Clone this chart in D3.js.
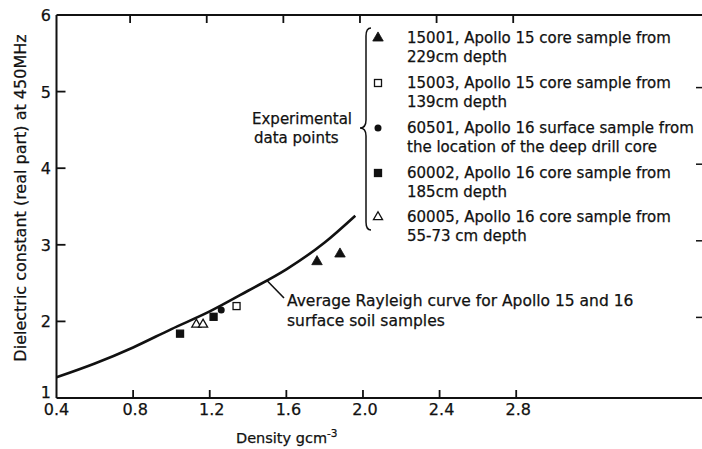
<!DOCTYPE html>
<html>
<head>
<meta charset="utf-8">
<script src="https://cdn.jsdelivr.net/npm/d3@7"></script>
<style>
  body { margin: 0; background: #fff; }
  svg { display: block; }
  text { font-family: "DejaVu Sans", sans-serif; fill: #111; stroke: #111; stroke-width: 0.25px; }
</style>
</head>
<body>
<svg id="chart" width="702" height="449"></svg>
<script>
// Rayleigh curve (density, dielectric constant)
var curveDensity = [0.4, 0.6, 0.8, 1.0, 1.2, 1.4, 1.6, 1.8, 1.96];
var curveEps = [1.27, 1.45, 1.66, 1.90, 2.13, 2.40, 2.68, 3.03, 3.38];

// experimental points, one small array per sample
var s15001 = [[1.76, 2.78], [1.88, 2.88]];
var s15003 = [[1.34, 2.20]];
var s60501 = [[1.26, 2.15]];
var s60002 = [[1.045, 1.84], [1.22, 2.06]];
var s60005 = [[1.13, 1.96], [1.165, 1.96]];

var xTicks = [0.4, 0.8, 1.2, 1.6, 2.0, 2.4, 2.8];
var yTicks = [1, 2, 3, 4, 5, 6];

var legendLines = [
    ["15001, Apollo 15 core sample from", "229cm depth"],
    ["15003, Apollo 15 core sample from", "139cm depth"],
    ["60501, Apollo 16 surface sample from", "the location of the deep drill core"],
    ["60002, Apollo 16 core sample from", "185cm depth"],
    ["60005, Apollo 16 core sample from", "55-73 cm depth"]
];
var legendSymbols = ["triFill", "sqOpen", "circFill", "sqFill", "triOpen"];

var svg = d3.select("svg");

var x = d3.scaleLinear().domain([0.4, 3.77]).range([56.5, 702]);
var y = d3.scaleLinear().domain([1, 6]).range([398, 15]);

var g = svg.append("g");

// frame lines
g.append("line").attr("x1", x(0.4)).attr("x2", 702).attr("y1", y(1)).attr("y2", y(1))
    .attr("stroke", "#111").attr("stroke-width", 2);
g.append("line").attr("x1", x(0.4)).attr("x2", 702).attr("y1", y(6)).attr("y2", y(6))
    .attr("stroke", "#111").attr("stroke-width", 2);
g.append("line").attr("x1", x(0.4)).attr("x2", x(0.4)).attr("y1", y(1)).attr("y2", y(6))
    .attr("stroke", "#111").attr("stroke-width", 2);

// ticks, inward
var inner = xTicks.slice(1);
g.selectAll(".xb").data(inner).enter().append("line")
    .attr("x1", function (d) { return x(d); }).attr("x2", function (d) { return x(d); })
    .attr("y1", y(1)).attr("y2", y(1) - 8)
    .attr("stroke", "#111").attr("stroke-width", 1.8);
g.selectAll(".xt").data(inner).enter().append("line")
    .attr("x1", function (d) { return x(d) - 3; }).attr("x2", function (d) { return x(d) - 3; })
    .attr("y1", y(6)).attr("y2", y(6) + 8)
    .attr("stroke", "#111").attr("stroke-width", 1.8);
g.selectAll(".yl").data(yTicks.slice(1, 5)).enter().append("line")
    .attr("x1", x(0.4)).attr("x2", x(0.4) + 9)
    .attr("y1", function (d) { return y(d); }).attr("y2", function (d) { return y(d); })
    .attr("stroke", "#111").attr("stroke-width", 1.8);
g.selectAll(".yr").data(yTicks.slice(1, 5)).enter().append("line")
    .attr("x1", 696).attr("x2", 702)
    .attr("y1", function (d) { return y(d) - 4; }).attr("y2", function (d) { return y(d) - 4; })
    .attr("stroke", "#111").attr("stroke-width", 1.5);

// tick labels
g.selectAll(".xlab").data(xTicks).enter().append("text")
    .attr("x", function (d) { return x(d) + (d === 0.4 ? 0 : 2); })
    .attr("y", 415)
    .attr("text-anchor", "middle")
    .style("font-size", "16px")
    .text(function (d) { return d.toFixed(1); });
g.selectAll(".ylab").data(yTicks).enter().append("text")
    .attr("x", 51)
    .attr("y", function (d) { return y(d) + (d === 1 ? 0 : 6); })
    .attr("text-anchor", "end")
    .style("font-size", "16px")
    .text(function (d) { return d; });

// axis titles
var xt = g.append("text").attr("x", 236).attr("y", 443).style("font-size", "14.5px");
xt.append("tspan").text("Density  gcm");
xt.append("tspan").attr("dy", -6).style("font-size", "10.5px").text("-3");

g.append("text")
    .attr("transform", "translate(26,198) rotate(-90)")
    .attr("text-anchor", "middle")
    .style("font-size", "16px")
    .text("Dielectric constant (real part) at 450MHz");

// curve
var line = d3.line()
    .x(function (d) { return x(d[0]); })
    .y(function (d) { return y(d[1]); })
    .curve(d3.curveMonotoneX);
g.append("path")
    .datum(d3.zip(curveDensity, curveEps))
    .attr("d", line)
    .attr("fill", "none").attr("stroke", "#111").attr("stroke-width", 2.6);

// symbols
function drawSymbol(sel, kind) {
    if (kind === "triFill" || kind === "triOpen") {
        sel.append("path")
            .attr("d", d3.symbol().type(d3.symbolTriangle).size(kind === "triFill" ? 48 : 36)())
            .attr("fill", kind === "triFill" ? "#111" : "#fff")
            .attr("stroke", "#111").attr("stroke-width", kind === "triFill" ? 0.8 : 1.3);
    } else if (kind === "sqFill" || kind === "sqOpen") {
        sel.append("rect").attr("x", -3.5).attr("y", -3.5).attr("width", 7).attr("height", 7)
            .attr("fill", kind === "sqFill" ? "#111" : "#fff")
            .attr("stroke", "#111").attr("stroke-width", 1.3);
    } else {
        sel.append("circle").attr("r", 3.5).attr("fill", "#111");
    }
}

var samples = [s15001, s15003, s60501, s60002, s60005];
samples.forEach(function (pts, i) {
    pts.forEach(function (p) {
        var s = g.append("g").attr("transform", "translate(" + x(p[0]) + "," + y(p[1]) + ")");
        drawSymbol(s, legendSymbols[i]);
    });
});

// curve annotation
g.append("line").attr("x1", x(1.5)).attr("y1", y(2.53)).attr("x2", 284).attr("y2", 298)
    .attr("stroke", "#111").attr("stroke-width", 1.6);
g.append("text").attr("x", 287).attr("y", 306).style("font-size", "15.5px")
    .text("Average Rayleigh curve for Apollo 15 and 16");
g.append("text").attr("x", 287).attr("y", 326).style("font-size", "15.5px")
    .text("surface soil samples");

// legend brace
var bx = 366, braceTop = 28, braceMid = 128, braceBot = 230;
g.append("path")
    .attr("d", "M" + (bx + 5) + "," + braceTop + " Q" + bx + "," + braceTop + " " + bx + "," + (braceTop + 8) +
        " L" + bx + "," + (braceMid - 8) + " Q" + bx + "," + braceMid + " " + (bx - 6) + "," + braceMid +
        " Q" + bx + "," + braceMid + " " + bx + "," + (braceMid + 8) +
        " L" + bx + "," + (braceBot - 8) + " Q" + bx + "," + braceBot + " " + (bx + 5) + "," + braceBot)
    .attr("fill", "none").attr("stroke", "#111").attr("stroke-width", 1.5);

g.append("text").attr("x", 252).attr("y", 124).style("font-size", "15px").text("Experimental");
g.append("text").attr("x", 254).attr("y", 143).style("font-size", "15px").text("data points");

var legY = [43, 88, 133, 178, 222];
legendLines.forEach(function (l, i) {
    var s = g.append("g").attr("transform", "translate(378," + (legY[i] - 5) + ")");
    drawSymbol(s, legendSymbols[i]);
    g.append("text").attr("x", 407).attr("y", legY[i]).style("font-size", "15px").text(l[0]);
    g.append("text").attr("x", 407).attr("y", legY[i] + 19).style("font-size", "15px").text(l[1]);
});
</script>
</body>
</html>
